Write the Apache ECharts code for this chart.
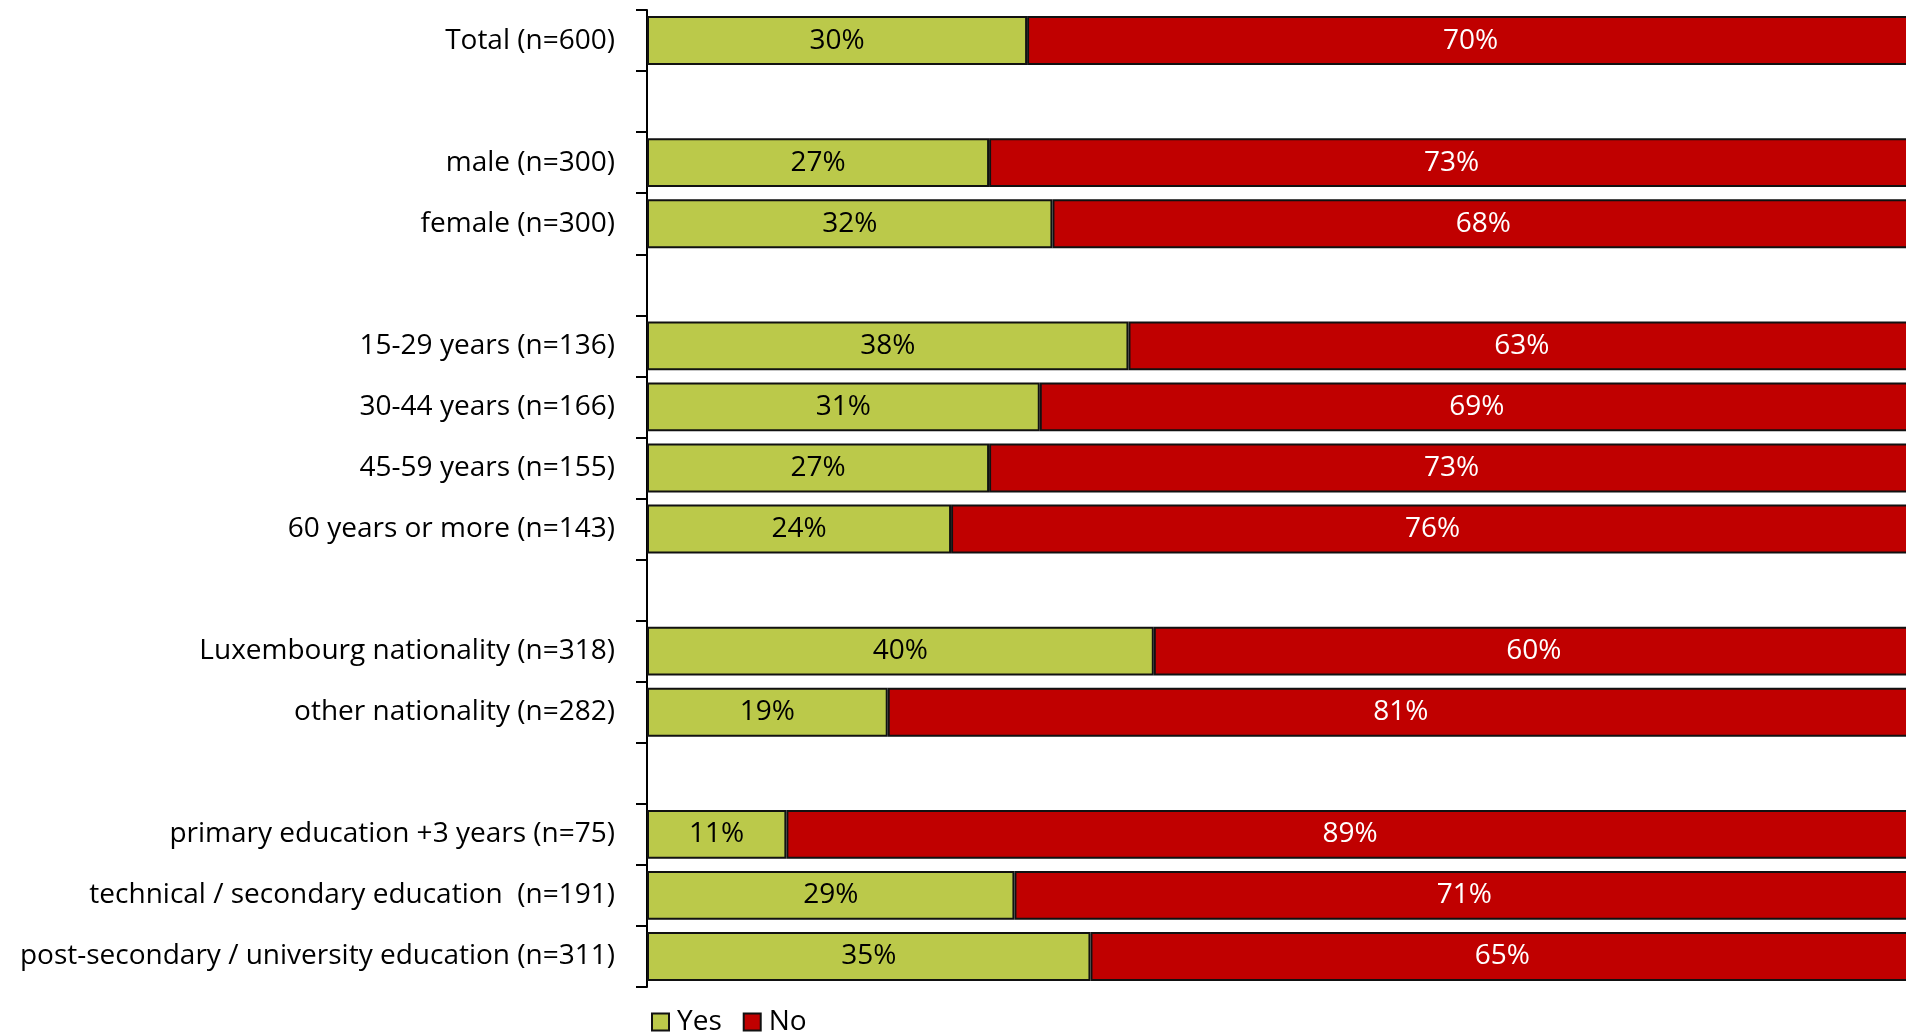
<!DOCTYPE html>
<html>
<head>
<meta charset="utf-8">
<script src="https://cdn.jsdelivr.net/npm/echarts@6/dist/echarts.min.js"></script>
<style>
  html, body { margin: 0; padding: 0; background: #fff; overflow: hidden; }
  #chart { width: 1906px; height: 1033px; }
</style>
</head>
<body>
<div id="chart"></div>
<script>
// Groups are separated by empty rows (distinct blank names keep them apart)
const categories = [
  'Total (n=600)',
  ' ',
  'male (n=300)',
  'female (n=300)',
  '  ',
  '15-29 years (n=136)',
  '30-44 years (n=166)',
  '45-59 years (n=155)',
  '60 years or more (n=143)',
  '   ',
  'Luxembourg nationality (n=318)',
  'other nationality (n=282)',
  '    ',
  'primary education +3 years (n=75)',
  'technical / secondary education  (n=191)',
  'post-secondary / university education (n=311)'
];
const yesValues = [30, null, 27, 32, null, 38, 31, 27, 24, null, 40, 19, null, 11, 29, 35];
const noValues  = [70, null, 73, 68, null, 63, 69, 73, 76, null, 60, 81, null, 89, 71, 65];

const FONT = '"Open Sans", "Noto Sans", sans-serif';
const FS = 28;

const chart = echarts.init(document.getElementById('chart'));
chart.setOption({
  animation: false,
  textStyle: { fontFamily: FONT },
  // the plot runs slightly past the right edge of the canvas
  grid: {
    left: 647, width: 1267, top: 10, bottom: 46,
    containLabel: false,
    outerBoundsMode: 'none'
  },
  legend: {
    left: 646,
    top: 1003,
    itemWidth: 17,
    itemHeight: 17,
    itemGap: 21,
    icon: 'rect',
    textStyle: { fontSize: FS, color: '#000', fontFamily: FONT, padding: [0, 0, 0, 3] },
    data: ['Yes', 'No']
  },
  xAxis: {
    type: 'value',
    min: 0,
    max: 100,
    show: false
  },
  yAxis: {
    type: 'category',
    inverse: true,
    data: categories,
    axisLine: { lineStyle: { color: '#000', width: 2 } },
    axisTick: { show: true, length: 11, lineStyle: { color: '#000', width: 2 } },
    axisLabel: { margin: 32, fontSize: FS, color: '#000', fontFamily: FONT },
    splitLine: { show: false }
  },
  series: [
    {
      name: 'Yes',
      type: 'bar',
      stack: 'total',
      barCategoryGap: '20%',
      data: yesValues,
      itemStyle: { color: '#BBC94A', borderColor: '#111', borderWidth: 2 },
      label: {
        show: true,
        position: 'inside',
        formatter: p => p.value + '%',
        fontSize: FS,
        color: '#000',
        fontFamily: FONT
      }
    },
    {
      name: 'No',
      type: 'bar',
      stack: 'total',
      barCategoryGap: '20%',
      data: noValues,
      itemStyle: { color: '#C00000', borderColor: '#111', borderWidth: 2 },
      label: {
        show: true,
        position: 'inside',
        formatter: p => p.value + '%',
        fontSize: FS,
        color: '#fff',
        fontFamily: FONT
      }
    }
  ]
});
</script>
</body>
</html>
